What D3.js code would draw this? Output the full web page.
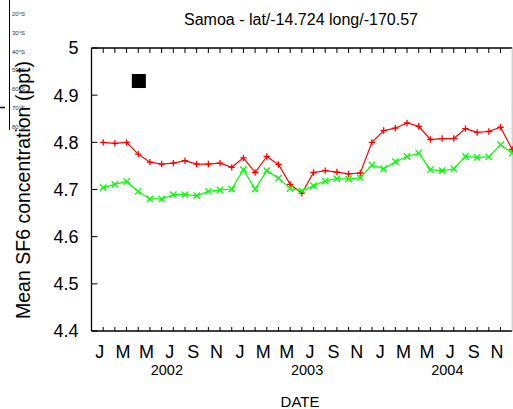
<!DOCTYPE html>
<html>
<head>
<meta charset="utf-8">
<script src="https://cdnjs.cloudflare.com/ajax/libs/d3/7.8.5/d3.min.js"></script>
<style>
  body { margin: 0; background: #fff; }
  text { font-family: "Liberation Sans", Arial, sans-serif; }
</style>
</head>
<body>
<div id="chart"></div>
<script>
// month index 1..36 (Feb 2002 .. Jan 2005 tick marks)
var maaneder = d3.range(1, 37);

var roed = [4.800, 4.798, 4.800, 4.775, 4.758, 4.754, 4.756, 4.761, 4.754, 4.754,
    4.756, 4.747, 4.767, 4.736, 4.770, 4.753, 4.711, 4.692, 4.736, 4.740,
    4.737, 4.733, 4.735, 4.800, 4.825, 4.830, 4.841, 4.834, 4.806, 4.808,
    4.808, 4.829, 4.821, 4.823, 4.832, 4.785];

var groenn = [4.704, 4.711, 4.717, 4.696, 4.680, 4.680, 4.689, 4.689, 4.687, 4.696,
    4.699, 4.701, 4.742, 4.701, 4.740, 4.724, 4.702, 4.697, 4.708, 4.718,
    4.723, 4.722, 4.725, 4.752, 4.744, 4.759, 4.770, 4.777, 4.742, 4.740,
    4.744, 4.770, 4.768, 4.769, 4.795, 4.777];

var maanedNavn = ["J", "M", "M", "J", "S", "N", "J", "M", "M", "J", "S", "N", "J", "M", "M", "J", "S", "N"];
var aar = ["2002", "2003", "2004"];
var yTicks = [4.4, 4.5, 4.6, 4.7, 4.8, 4.9, 5];
var breddegrader = ["20°S", "30°S", "40°S", "50°S", "60°S", "70°S", "80°S"];

// the black station marker
var markor = { maaned: 4.05, verdi: 4.93 };

var W = 513, H = 409;
var margin = { top: 48, left: 91.5, right: 0.8, bottom: 78 };
var width = W - margin.left - margin.right,
    height = H - margin.top - margin.bottom;

var x = d3.scaleLinear().domain([0, 36]).range([0, width]);
var y = d3.scaleLinear().domain([4.4, 5]).range([height, 0]);

var svg = d3.select("#chart").append("svg")
    .attr("width", W)
    .attr("height", H);

// little latitude strip in the corner
var strip = svg.append("g");
strip.append("line")
    .attr("x1", 9.5).attr("x2", 9.5)
    .attr("y1", 0).attr("y2", 130)
    .attr("stroke", "#000").attr("stroke-width", 1);
strip.append("line")
    .attr("x1", 0).attr("x2", 5)
    .attr("y1", 107.5).attr("y2", 107.5)
    .attr("stroke", "#000").attr("stroke-width", 1.5);
strip.selectAll(".lat")
    .data(breddegrader)
    .enter().append("text")
    .attr("class", "lat")
    .attr("x", 12)
    .attr("y", function (d, i) { return 16 + i * 18.8; })
    .attr("font-size", 6)
    .attr("fill", "#333")
    .text(function (d) { return d; });

var g = svg.append("g")
    .attr("transform", "translate(" + margin.left + "," + margin.top + ")");

// frame
g.append("line").attr("x1", 0).attr("x2", 0).attr("y1", 0).attr("y2", height)
    .attr("stroke", "#000").attr("stroke-width", 1.3);
g.append("line").attr("x1", 0).attr("x2", width).attr("y1", 0).attr("y2", 0)
    .attr("stroke", "#000").attr("stroke-width", 1.3);
g.append("line").attr("x1", 0).attr("x2", width).attr("y1", height).attr("y2", height)
    .attr("stroke", "#000").attr("stroke-width", 1.3);
g.append("line").attr("x1", width).attr("x2", width).attr("y1", 0).attr("y2", height)
    .attr("stroke", "#bbb").attr("stroke-width", 1);

// month ticks top and bottom (inward)
var mTicks = d3.range(1, 36);
g.selectAll(".tt").data(mTicks).enter().append("line")
    .attr("x1", function (d) { return x(d); }).attr("x2", function (d) { return x(d); })
    .attr("y1", 0).attr("y2", 5)
    .attr("stroke", "#000").attr("stroke-width", 1);
g.selectAll(".bt").data(mTicks).enter().append("line")
    .attr("x1", function (d) { return x(d); }).attr("x2", function (d) { return x(d); })
    .attr("y1", height).attr("y2", height - 4)
    .attr("stroke", "#000").attr("stroke-width", 1);

// y ticks
g.selectAll(".yt").data(yTicks).enter().append("line")
    .attr("x1", 0).attr("x2", 6)
    .attr("y1", function (d) { return y(d); }).attr("y2", function (d) { return y(d); })
    .attr("stroke", "#000").attr("stroke-width", 1);
g.selectAll(".yl").data(yTicks).enter().append("text")
    .attr("x", -13)
    .attr("y", function (d) { return y(d); })
    .attr("dy", "0.36em")
    .attr("text-anchor", "end")
    .attr("font-size", 18)
    .text(function (d) { return d3.format("")(d); });

// month labels
g.selectAll(".ml").data(maanedNavn).enter().append("text")
    .attr("x", function (d, i) { return x(i * 2 + 0.7); })
    .attr("y", height + 27)
    .attr("text-anchor", "middle")
    .attr("font-size", 18)
    .text(function (d) { return d; });

g.selectAll(".yr").data(aar).enter().append("text")
    .attr("x", function (d, i) { return x(i * 12 + 6.45); })
    .attr("y", height + 44)
    .attr("text-anchor", "middle")
    .attr("font-size", 14.5)
    .text(function (d) { return d; });

svg.append("text")
    .attr("x", 300).attr("y", 407)
    .attr("text-anchor", "middle")
    .attr("font-size", 15)
    .text("DATE");

svg.append("text")
    .attr("x", 301).attr("y", 25)
    .attr("text-anchor", "middle")
    .attr("font-size", 16)
    .text("Samoa - lat/-14.724 long/-170.57");

svg.append("text")
    .attr("transform", "translate(29.5,190) rotate(-90)")
    .attr("text-anchor", "middle")
    .attr("font-size", 19.5)
    .text("Mean SF6 concentration (ppt)");

// series
function tegnSerie(verdier, farge, form) {
    var linje = d3.line()
        .x(function (d, i) { return x(maaneder[i]); })
        .y(function (d) { return y(d); });
    g.append("path")
        .datum(verdier)
        .attr("fill", "none")
        .attr("stroke", farge)
        .attr("stroke-width", 1.2)
        .attr("d", linje);
    var s = 3.2;
    g.selectAll(".m" + form).data(verdier).enter().append("path")
        .attr("transform", function (d, i) { return "translate(" + x(maaneder[i]) + "," + y(d) + ")"; })
        .attr("d", form === "plus"
            ? "M" + (-s) + ",0H" + s + "M0," + (-s) + "V" + s
            : "M" + (-s) + "," + (-s) + "L" + s + "," + s + "M" + (-s) + "," + s + "L" + s + "," + (-s))
        .attr("stroke", farge)
        .attr("stroke-width", 1.3)
        .attr("fill", "none");
}
tegnSerie(roed, "#ff0000", "plus");
tegnSerie(groenn, "#00ff00", "cross");

// black square
g.append("rect")
    .attr("x", x(markor.maaned) - 7)
    .attr("y", y(markor.verdi) - 7)
    .attr("width", 14).attr("height", 14)
    .attr("fill", "#000");
</script>
</body>
</html>
